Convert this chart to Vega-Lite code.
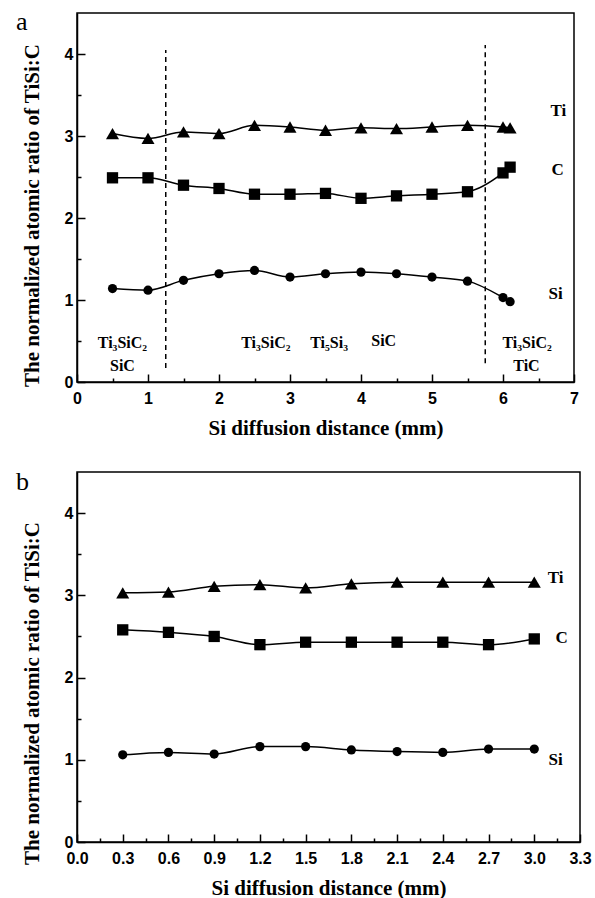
{
  "$schema": "https://vega.github.io/schema/vega-lite/v6.json",
  "padding": {"left": 15, "top": 8, "right": 0, "bottom": 0},
  "spacing": 29,
  "background": "white",
  "config": {
    "view": {"stroke": "black", "strokeWidth": 1.5},
    "axis": {"domainColor": "black", "domainWidth": 1.5, "tickColor": "black", "tickWidth": 1.5, "grid": false, "labelFlush": false,
      "labelFont": "Liberation Sans", "labelFontWeight": "bold", "labelFontSize": 16, "labelColor": "black",
      "titleFont": "Liberation Serif", "titleFontWeight": "bold", "titleFontSize": 21, "titleColor": "black"},
    "title": {"font": "Liberation Serif", "fontSize": 26, "fontWeight": "normal", "color": "black", "anchor": "start", "frame": "bounds"}
  },
  "datasets": {
    "seriesA": [
      {"x": 0.5, "v": 3.03, "el": "Ti"}, {"x": 1, "v": 2.97, "el": "Ti"}, {"x": 1.5, "v": 3.05, "el": "Ti"}, {"x": 2, "v": 3.03, "el": "Ti"},
      {"x": 2.5, "v": 3.13, "el": "Ti"}, {"x": 3, "v": 3.11, "el": "Ti"}, {"x": 3.5, "v": 3.07, "el": "Ti"}, {"x": 4, "v": 3.1, "el": "Ti"},
      {"x": 4.5, "v": 3.09, "el": "Ti"}, {"x": 5, "v": 3.11, "el": "Ti"}, {"x": 5.5, "v": 3.13, "el": "Ti"}, {"x": 6.0, "v": 3.11, "el": "Ti"}, {"x": 6.1, "v": 3.1, "el": "Ti"},
      {"x": 0.5, "v": 2.49, "el": "C"}, {"x": 1, "v": 2.49, "el": "C"}, {"x": 1.5, "v": 2.4, "el": "C"}, {"x": 2, "v": 2.36, "el": "C"},
      {"x": 2.5, "v": 2.29, "el": "C"}, {"x": 3, "v": 2.29, "el": "C"}, {"x": 3.5, "v": 2.3, "el": "C"}, {"x": 4, "v": 2.24, "el": "C"},
      {"x": 4.5, "v": 2.27, "el": "C"}, {"x": 5, "v": 2.29, "el": "C"}, {"x": 5.5, "v": 2.32, "el": "C"}, {"x": 6.0, "v": 2.55, "el": "C"}, {"x": 6.1, "v": 2.62, "el": "C"},
      {"x": 0.5, "v": 1.14, "el": "Si"}, {"x": 1, "v": 1.12, "el": "Si"}, {"x": 1.5, "v": 1.24, "el": "Si"}, {"x": 2, "v": 1.32, "el": "Si"},
      {"x": 2.5, "v": 1.36, "el": "Si"}, {"x": 3, "v": 1.28, "el": "Si"}, {"x": 3.5, "v": 1.32, "el": "Si"}, {"x": 4, "v": 1.34, "el": "Si"},
      {"x": 4.5, "v": 1.32, "el": "Si"}, {"x": 5, "v": 1.28, "el": "Si"}, {"x": 5.5, "v": 1.23, "el": "Si"}, {"x": 6.0, "v": 1.03, "el": "Si"}, {"x": 6.1, "v": 0.98, "el": "Si"}
    ],
    "seriesB": [
      {"x": 0.3, "v": 3.03, "el": "Ti"}, {"x": 0.6, "v": 3.04, "el": "Ti"}, {"x": 0.9, "v": 3.11, "el": "Ti"}, {"x": 1.2, "v": 3.13, "el": "Ti"}, {"x": 1.5, "v": 3.09, "el": "Ti"},
      {"x": 1.8, "v": 3.14, "el": "Ti"}, {"x": 2.1, "v": 3.16, "el": "Ti"}, {"x": 2.4, "v": 3.16, "el": "Ti"}, {"x": 2.7, "v": 3.16, "el": "Ti"}, {"x": 3.0, "v": 3.16, "el": "Ti"},
      {"x": 0.3, "v": 2.58, "el": "C"}, {"x": 0.6, "v": 2.55, "el": "C"}, {"x": 0.9, "v": 2.5, "el": "C"}, {"x": 1.2, "v": 2.4, "el": "C"}, {"x": 1.5, "v": 2.43, "el": "C"},
      {"x": 1.8, "v": 2.43, "el": "C"}, {"x": 2.1, "v": 2.43, "el": "C"}, {"x": 2.4, "v": 2.43, "el": "C"}, {"x": 2.7, "v": 2.4, "el": "C"}, {"x": 3.0, "v": 2.47, "el": "C"},
      {"x": 0.3, "v": 1.06, "el": "Si"}, {"x": 0.6, "v": 1.09, "el": "Si"}, {"x": 0.9, "v": 1.07, "el": "Si"}, {"x": 1.2, "v": 1.16, "el": "Si"}, {"x": 1.5, "v": 1.16, "el": "Si"},
      {"x": 1.8, "v": 1.12, "el": "Si"}, {"x": 2.1, "v": 1.1, "el": "Si"}, {"x": 2.4, "v": 1.09, "el": "Si"}, {"x": 2.7, "v": 1.13, "el": "Si"}, {"x": 3.0, "v": 1.13, "el": "Si"}
    ],
    "boundsA": [
      {"x": 1.25, "y1": 0.17, "y2": 4.05},
      {"x": 5.75, "y1": 0.23, "y2": 4.11}
    ],
    "phasesA": [
      {"label": "Ti₃SiC₂", "x": 0.64, "y": 0.48},
      {"label": "SiC", "x": 0.64, "y": 0.19},
      {"label": "Ti₃SiC₂", "x": 2.66, "y": 0.48},
      {"label": "Ti₅Si₃", "x": 3.55, "y": 0.48},
      {"label": "SiC", "x": 4.32, "y": 0.5},
      {"label": "Ti₃SiC₂", "x": 6.34, "y": 0.48},
      {"label": "TiC", "x": 6.33, "y": 0.19}
    ],
    "namesA": [
      {"label": "Ti", "x": 6.78, "y": 3.3},
      {"label": "C", "x": 6.77, "y": 2.59},
      {"label": "Si", "x": 6.74, "y": 1.07}
    ],
    "namesB": [
      {"label": "Ti", "x": 3.14, "y": 3.21},
      {"label": "C", "x": 3.18, "y": 2.48},
      {"label": "Si", "x": 3.14, "y": 1.0}
    ]
  },
  "vconcat": [
    {
      "width": 497,
      "height": 369,
      "title": {"text": "a", "offset": -22, "dx": -5},
      "layer": [
        {
          "data": {"name": "seriesA"},
          "mark": {"type": "line", "color": "black", "strokeWidth": 1.5, "interpolate": "monotone"},
          "encoding": {
            "x": {"field": "x", "type": "quantitative", "scale": {"domain": [0, 7], "nice": false},
              "axis": {"orient": "bottom", "values": [0, 1, 2, 3, 4, 5, 6, 7], "tickSize": -8, "labelPadding": 16, "title": "Si diffusion distance (mm)", "titlePadding": 11}},
            "y": {"field": "v", "type": "quantitative", "scale": {"domain": [0, 4.5], "nice": false},
              "axis": {"orient": "left", "values": [0, 1, 2, 3, 4], "tickSize": -8, "labelPadding": 12, "title": "The normalized atomic ratio of TiSi:C", "titlePadding": 22, "titleY": 202}},
            "detail": {"field": "el"},
            "order": {"field": "x", "type": "quantitative"}
          }
        },
        {
          "data": {"name": "seriesA"},
          "mark": {"type": "point", "filled": true, "color": "black", "opacity": 1},
          "encoding": {
            "x": {"field": "x", "type": "quantitative",
              "axis": {"orient": "bottom", "values": [0.5, 1.5, 2.5, 3.5, 4.5, 5.5, 6.5], "tickSize": -4, "labels": false, "domain": false, "title": null}},
            "y": {"field": "v", "type": "quantitative",
              "axis": {"orient": "left", "values": [0.5, 1.5, 2.5, 3.5], "tickSize": -4, "labels": false, "domain": false, "title": null}},
            "shape": {"field": "el", "type": "nominal", "scale": {"domain": ["Ti", "C", "Si"], "range": ["triangle-up", "square", "circle"]}, "legend": null},
            "size": {"field": "el", "type": "nominal", "scale": {"domain": ["Ti", "C", "Si"], "range": [170, 85, 90]}, "legend": null}
          }
        },
        {
          "data": {"name": "boundsA"},
          "mark": {"type": "rule", "color": "black", "strokeWidth": 1.5, "strokeDash": [5, 4]},
          "encoding": {
            "x": {"field": "x", "type": "quantitative", "axis": null},
            "y": {"field": "y1", "type": "quantitative", "axis": null},
            "y2": {"field": "y2"}
          }
        },
        {
          "data": {"name": "phasesA"},
          "mark": {"type": "text", "font": "Liberation Serif", "fontWeight": "bold", "fontSize": 16, "color": "black", "baseline": "middle"},
          "encoding": {
            "x": {"field": "x", "type": "quantitative", "axis": null},
            "y": {"field": "y", "type": "quantitative", "axis": null},
            "text": {"field": "label"}
          }
        },
        {
          "data": {"name": "namesA"},
          "mark": {"type": "text", "font": "Liberation Serif", "fontWeight": "bold", "fontSize": 17, "color": "black", "baseline": "middle"},
          "encoding": {
            "x": {"field": "x", "type": "quantitative", "axis": null},
            "y": {"field": "y", "type": "quantitative", "axis": null},
            "text": {"field": "label"}
          }
        }
      ],
      "resolve": {"axis": {"x": "independent", "y": "independent"}}
    },
    {
      "width": 503,
      "height": 370,
      "title": {"text": "b", "offset": -23, "dx": -5},
      "layer": [
        {
          "data": {"name": "seriesB"},
          "mark": {"type": "line", "color": "black", "strokeWidth": 1.5, "interpolate": "monotone"},
          "encoding": {
            "x": {"field": "x", "type": "quantitative", "scale": {"domain": [0, 3.3], "nice": false},
              "axis": {"orient": "bottom", "values": [0, 0.3, 0.6, 0.9, 1.2, 1.5, 1.8, 2.1, 2.4, 2.7, 3.0, 3.3], "format": ".1f", "tickSize": -8, "labelPadding": 16, "title": "Si diffusion distance (mm)", "titlePadding": 11}},
            "y": {"field": "v", "type": "quantitative", "scale": {"domain": [0, 4.5], "nice": false},
              "axis": {"orient": "left", "values": [0, 1, 2, 3, 4], "tickSize": -8, "labelPadding": 12, "title": "The normalized atomic ratio of TiSi:C", "titlePadding": 22, "titleY": 221}},
            "detail": {"field": "el"},
            "order": {"field": "x", "type": "quantitative"}
          }
        },
        {
          "data": {"name": "seriesB"},
          "mark": {"type": "point", "filled": true, "color": "black", "opacity": 1},
          "encoding": {
            "x": {"field": "x", "type": "quantitative",
              "axis": {"orient": "bottom", "values": [0.15, 0.45, 0.75, 1.05, 1.35, 1.65, 1.95, 2.25, 2.55, 2.85, 3.15], "tickSize": -4, "labels": false, "domain": false, "title": null}},
            "y": {"field": "v", "type": "quantitative",
              "axis": {"orient": "left", "values": [0.5, 1.5, 2.5, 3.5], "tickSize": -4, "labels": false, "domain": false, "title": null}},
            "shape": {"field": "el", "type": "nominal", "scale": {"domain": ["Ti", "C", "Si"], "range": ["triangle-up", "square", "circle"]}, "legend": null},
            "size": {"field": "el", "type": "nominal", "scale": {"domain": ["Ti", "C", "Si"], "range": [170, 85, 90]}, "legend": null}
          }
        },
        {
          "data": {"name": "namesB"},
          "mark": {"type": "text", "font": "Liberation Serif", "fontWeight": "bold", "fontSize": 17, "color": "black", "baseline": "middle"},
          "encoding": {
            "x": {"field": "x", "type": "quantitative", "axis": null},
            "y": {"field": "y", "type": "quantitative", "axis": null},
            "text": {"field": "label"}
          }
        }
      ],
      "resolve": {"axis": {"x": "independent", "y": "independent"}}
    }
  ]
}
